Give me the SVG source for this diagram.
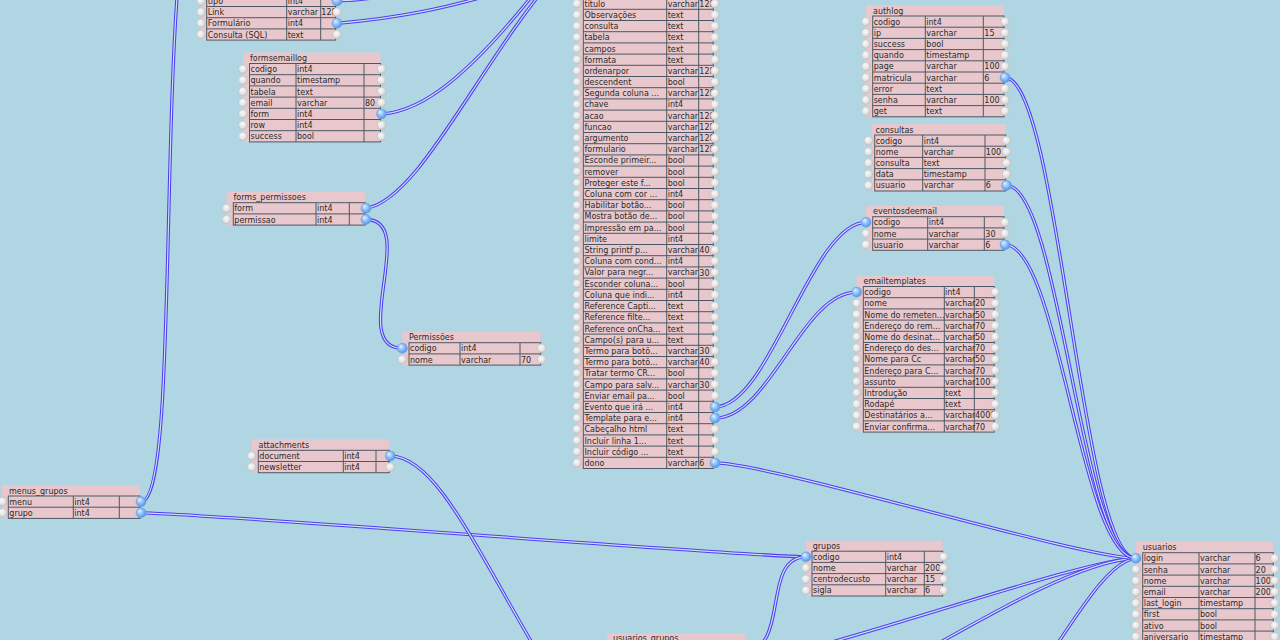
<svg xmlns="http://www.w3.org/2000/svg" xmlns:xlink="http://www.w3.org/1999/xlink" width="1280" height="640" viewBox="0 0 1280 640">
<style>
.bgc{fill:#b0d6e3}
.pk{fill:#e8c8cc}
.grid{fill:#e8c8cc;stroke:#4c5863;stroke-width:1}
.ln{fill:none;stroke:#4c5863;stroke-width:1}
.t{font-family:"DejaVu Sans","Liberation Sans",sans-serif;font-size:8px;fill:#2a2a2a}
.co{fill:none;stroke:#4b3ff2;stroke-width:3.3}
.ci{fill:none;stroke:#d4dcf6;stroke-width:1.2}
</style>
<defs>
<radialGradient id="gg" cx="0.45" cy="0.45" r="0.6" fx="0.4" fy="0.35"><stop offset="0" stop-color="#fbfbfb"/><stop offset="0.6" stop-color="#e4e4e4"/><stop offset="1" stop-color="#bcbcbc"/></radialGradient>
<radialGradient id="gb" cx="0.45" cy="0.45" r="0.6" fx="0.35" fy="0.3"><stop offset="0" stop-color="#e4f2ff"/><stop offset="0.5" stop-color="#8cc0f8"/><stop offset="1" stop-color="#4a8de6"/></radialGradient>
<circle id="o" r="4.4" fill="url(#gg)" stroke="#c2c2c2" stroke-width="0.6"/>
<circle id="b" r="5" fill="url(#gb)" stroke="#6b9fe0" stroke-width="0.5"/>
<g id="mcol">
<use href="#o" y="3.7"/><use href="#o" y="14.9"/><use href="#o" y="26.1"/><use href="#o" y="37.3"/><use href="#o" y="48.5"/><use href="#o" y="59.7"/><use href="#o" y="70.9"/><use href="#o" y="82.1"/><use href="#o" y="93.3"/><use href="#o" y="104.5"/><use href="#o" y="115.7"/><use href="#o" y="126.9"/><use href="#o" y="138.1"/><use href="#o" y="149.3"/><use href="#o" y="160.5"/><use href="#o" y="171.7"/><use href="#o" y="182.9"/><use href="#o" y="194.1"/><use href="#o" y="205.3"/><use href="#o" y="216.5"/><use href="#o" y="227.7"/><use href="#o" y="238.9"/><use href="#o" y="250.1"/><use href="#o" y="261.3"/><use href="#o" y="272.5"/><use href="#o" y="283.7"/><use href="#o" y="294.9"/><use href="#o" y="306.1"/><use href="#o" y="317.3"/><use href="#o" y="328.5"/><use href="#o" y="339.7"/><use href="#o" y="350.9"/><use href="#o" y="362.1"/><use href="#o" y="373.3"/><use href="#o" y="384.5"/><use href="#o" y="395.7"/><use href="#o" y="406.9"/><use href="#o" y="418.1"/><use href="#o" y="429.3"/><use href="#o" y="440.5"/><use href="#o" y="451.7"/><use href="#o" y="462.9"/>
</g>
<path id="c1" d="M337,0.9 C380,0 420,-10 470,-30"/>
<path id="c2" d="M337,23.3 C400,18 450,8 520,-14"/>
<path id="c3" d="M381.5,113.9 C420,112 470,80 560,-40"/>
<path id="c4" d="M366,208.3 C420,200 480,60 560,-30"/>
<path id="c5" d="M366,219.5 C420,219.5 347.3,348.3 402.3,348.3"/>
<path id="c6" d="M141,501.6 C175,501.6 162,150 180,-40"/>
<path id="c7" d="M141,512.8 C200,512.8 746,556.8 806,556.8"/>
<path id="c8" d="M390.3,455.9 C440,457 480,560 560,690"/>
<path id="c9" d="M745,650 C790,650 761,556.8 806,556.8"/>
<path id="c10" d="M745,661 C800,661 1081,558.3 1136,558.3"/>
<path id="c11" d="M900,665 C980,620 1080,560 1136,558.3"/>
<path id="c12" d="M1040,670 C1080,610 1110,560 1136,558.3"/>
<path id="c13" d="M715,462.9 C770,462.9 1081,558.3 1136,558.3"/>
<path id="c14" d="M1005,77.6 C1059,77.6 1081,558.3 1136,558.3"/>
<path id="c15" d="M1006.5,185.4 C1060,185.4 1081,558.3 1136,558.3"/>
<path id="c16" d="M1005,244.7 C1059,244.7 1081,558.3 1136,558.3"/>
<path id="c17" d="M715,406.9 C770,406.9 811,222.3 866,222.3"/>
<path id="c18" d="M715,418.1 C770,418.1 801.7,292.1 856.7,292.1"/>
</defs>
<rect class="bgc" x="0" y="0" width="1280" height="640"/>

<g id="connectors">
<use href="#c1" class="co"/><use href="#c1" class="ci"/>
<use href="#c2" class="co"/><use href="#c2" class="ci"/>
<use href="#c3" class="co"/><use href="#c3" class="ci"/>
<use href="#c4" class="co"/><use href="#c4" class="ci"/>
<use href="#c5" class="co"/><use href="#c5" class="ci"/>
<use href="#c6" class="co"/><use href="#c6" class="ci"/>
<use href="#c7" class="co"/><use href="#c7" class="ci"/>
<use href="#c8" class="co"/><use href="#c8" class="ci"/>
<use href="#c9" class="co"/><use href="#c9" class="ci"/>
<use href="#c10" class="co"/><use href="#c10" class="ci"/>
<use href="#c11" class="co"/><use href="#c11" class="ci"/>
<use href="#c12" class="co"/><use href="#c12" class="ci"/>
<use href="#c13" class="co"/><use href="#c13" class="ci"/>
<use href="#c14" class="co"/><use href="#c14" class="ci"/>
<use href="#c15" class="co"/><use href="#c15" class="ci"/>
<use href="#c16" class="co"/><use href="#c16" class="ci"/>
<use href="#c17" class="co"/><use href="#c17" class="ci"/>
<use href="#c18" class="co"/><use href="#c18" class="ci"/>
</g>

<g id="table-menus">
<rect class="pk" x="201" y="-30" width="134.7" height="70.1"/>
<rect class="grid" x="206.7" y="-4.7" width="129" height="44.8"/>
<path class="ln" d="M206.7,6.5H335.7M206.7,17.7H335.7M206.7,28.9H335.7M286.7,-4.7V40.1M320.7,-4.7V40.1"/>
<text class="t" y="3.9"><tspan x="207.7">tipo</tspan><tspan x="207.7" dy="11.2">Link</tspan><tspan x="207.7" dy="11.2">Formulário</tspan><tspan x="207.7" dy="11.2">Consulta (SQL)</tspan></text>
<text class="t" y="3.9"><tspan x="287.7">int4</tspan><tspan x="287.7" dy="11.2">varchar</tspan><tspan x="287.7" dy="11.2">int4</tspan><tspan x="287.7" dy="11.2">text</tspan></text>
<text class="t" x="321.3" y="15.1">128</text>
<use href="#o" x="201" y="0.9"/><use href="#o" x="201" y="12.1"/><use href="#o" x="201" y="23.3"/><use href="#o" x="201" y="34.5"/>
<use href="#o" x="337" y="12.1"/><use href="#o" x="337" y="34.5"/>
<use href="#b" x="337" y="0.9"/><use href="#b" x="337" y="23.3"/>
</g>

<g id="table-formsemaillog">
<rect class="pk" x="243" y="52.5" width="137.5" height="89.4"/>
<text class="t" x="250" y="61">formsemaillog</text>
<rect class="grid" x="249.5" y="63.5" width="131" height="78.4"/>
<path class="ln" d="M249.5,74.7H380.5M249.5,85.9H380.5M249.5,97.1H380.5M249.5,108.3H380.5M249.5,119.5H380.5M249.5,130.7H380.5M296,63.5V141.9M364,63.5V141.9"/>
<text class="t" y="72.1"><tspan x="250.5">codigo</tspan><tspan x="250.5" dy="11.2">quando</tspan><tspan x="250.5" dy="11.2">tabela</tspan><tspan x="250.5" dy="11.2">email</tspan><tspan x="250.5" dy="11.2">form</tspan><tspan x="250.5" dy="11.2">row</tspan><tspan x="250.5" dy="11.2">success</tspan></text>
<text class="t" y="72.1"><tspan x="297">int4</tspan><tspan x="297" dy="11.2">timestamp</tspan><tspan x="297" dy="11.2">text</tspan><tspan x="297" dy="11.2">varchar</tspan><tspan x="297" dy="11.2">int4</tspan><tspan x="297" dy="11.2">int4</tspan><tspan x="297" dy="11.2">bool</tspan></text>
<text class="t" x="365" y="105.7">80</text>
<use href="#o" x="243" y="69.1"/><use href="#o" x="243" y="80.3"/><use href="#o" x="243" y="91.5"/><use href="#o" x="243" y="102.7"/><use href="#o" x="243" y="113.9"/><use href="#o" x="243" y="125.1"/><use href="#o" x="243" y="136.3"/>
<use href="#o" x="381.5" y="69.1"/><use href="#o" x="381.5" y="80.3"/><use href="#o" x="381.5" y="91.5"/><use href="#o" x="381.5" y="102.7"/><use href="#b" x="381.5" y="113.9"/><use href="#o" x="381.5" y="125.1"/><use href="#o" x="381.5" y="136.3"/>
</g>

<g id="table-forms_permissoes">
<rect class="pk" x="226.7" y="191.7" width="138.3" height="33.4"/>
<text class="t" x="233.5" y="200.2">forms_permissoes</text>
<rect class="grid" x="233.3" y="202.7" width="131.7" height="22.4"/>
<path class="ln" d="M233.3,213.9H365M316,202.7V225.1M349.3,202.7V225.1"/>
<text class="t" y="211.3"><tspan x="234.3">form</tspan><tspan x="234.3" dy="11.2">permissao</tspan></text>
<text class="t" y="211.3"><tspan x="317">int4</tspan><tspan x="317" dy="11.2">int4</tspan></text>
<use href="#o" x="226.7" y="208.3"/><use href="#o" x="226.7" y="219.5"/>
<use href="#b" x="366" y="208.3"/><use href="#b" x="366" y="219.5"/>
</g>

<g id="table-permissoes">
<rect class="pk" x="402.3" y="331.7" width="138.4" height="33.4"/>
<text class="t" x="409" y="340.2">Permissões</text>
<rect class="grid" x="409" y="342.7" width="131.7" height="22.4"/>
<path class="ln" d="M409,353.9H540.7M460,342.7V365.1M520,342.7V365.1"/>
<text class="t" y="351.3"><tspan x="410">codigo</tspan><tspan x="410" dy="11.2">nome</tspan></text>
<text class="t" y="351.3"><tspan x="461">int4</tspan><tspan x="461" dy="11.2">varchar</tspan></text>
<text class="t" x="521" y="362.5">70</text>
<use href="#b" x="402.3" y="348.3"/><use href="#o" x="402.3" y="359.5"/>
<use href="#o" x="541.7" y="348.3"/><use href="#o" x="541.7" y="359.5"/>
</g>

<g id="table-attachments">
<rect class="pk" x="251.7" y="439.3" width="137.6" height="33.4"/>
<text class="t" x="258.5" y="447.8">attachments</text>
<rect class="grid" x="258.3" y="450.3" width="131" height="22.4"/>
<path class="ln" d="M258.3,461.5H389.3M343.3,450.3V472.7M376,450.3V472.7"/>
<text class="t" y="458.9"><tspan x="259.3">document</tspan><tspan x="259.3" dy="11.2">newsletter</tspan></text>
<text class="t" y="458.9"><tspan x="344.3">int4</tspan><tspan x="344.3" dy="11.2">int4</tspan></text>
<use href="#o" x="251.7" y="455.9"/><use href="#o" x="251.7" y="467.1"/>
<use href="#b" x="390.3" y="455.9"/><use href="#o" x="390.3" y="467.1"/>
</g>

<g id="table-menus_grupos">
<rect class="pk" x="2" y="485" width="138" height="33.4"/>
<text class="t" x="9" y="493.5">menus_grupos</text>
<rect class="grid" x="8.3" y="496" width="131.7" height="22.4"/>
<path class="ln" d="M8.3,507.2H140M73.3,496V518.4M119.3,496V518.4"/>
<text class="t" y="504.6"><tspan x="9.3">menu</tspan><tspan x="9.3" dy="11.2">grupo</tspan></text>
<text class="t" y="504.6"><tspan x="74.3">int4</tspan><tspan x="74.3" dy="11.2">int4</tspan></text>
<use href="#o" x="2.5" y="501.6"/><use href="#o" x="2.5" y="512.8"/>
<use href="#b" x="141" y="501.6"/><use href="#b" x="141" y="512.8"/>
</g>

<g id="table-main">
<rect class="pk" x="577" y="-30" width="136.3" height="498.5"/>
<rect class="grid" x="583.3" y="-1.9" width="130" height="470.4"/>
<path class="ln" d="M583.3,9.3H713.3M583.3,20.5H713.3M583.3,31.7H713.3M583.3,42.9H713.3M583.3,54.1H713.3M583.3,65.3H713.3M583.3,76.5H713.3M583.3,87.7H713.3M583.3,98.9H713.3M583.3,110.1H713.3M583.3,121.3H713.3M583.3,132.5H713.3M583.3,143.7H713.3M583.3,154.9H713.3M583.3,166.1H713.3M583.3,177.3H713.3M583.3,188.5H713.3M583.3,199.7H713.3M583.3,210.9H713.3M583.3,222.1H713.3M583.3,233.3H713.3M583.3,244.5H713.3M583.3,255.7H713.3M583.3,266.9H713.3M583.3,278.1H713.3M583.3,289.3H713.3M583.3,300.5H713.3M583.3,311.7H713.3M583.3,322.9H713.3M583.3,334.1H713.3M583.3,345.3H713.3M583.3,356.5H713.3M583.3,367.7H713.3M583.3,378.9H713.3M583.3,390.1H713.3M583.3,401.3H713.3M583.3,412.5H713.3M583.3,423.7H713.3M583.3,434.9H713.3M583.3,446.1H713.3M583.3,457.3H713.3M666.7,-1.9V468.5M698.7,-1.9V468.5"/>
<text class="t" y="6.7"><tspan x="584.5">titulo</tspan><tspan x="584.5" dy="11.2">Observações</tspan><tspan x="584.5" dy="11.2">consulta</tspan><tspan x="584.5" dy="11.2">tabela</tspan><tspan x="584.5" dy="11.2">campos</tspan><tspan x="584.5" dy="11.2">formata</tspan><tspan x="584.5" dy="11.2">ordenarpor</tspan><tspan x="584.5" dy="11.2">descendent</tspan><tspan x="584.5" dy="11.2">Segunda coluna ...</tspan><tspan x="584.5" dy="11.2">chave</tspan><tspan x="584.5" dy="11.2">acao</tspan><tspan x="584.5" dy="11.2">funcao</tspan><tspan x="584.5" dy="11.2">argumento</tspan><tspan x="584.5" dy="11.2">formulario</tspan><tspan x="584.5" dy="11.2">Esconde primeir...</tspan><tspan x="584.5" dy="11.2">remover</tspan><tspan x="584.5" dy="11.2">Proteger este f...</tspan><tspan x="584.5" dy="11.2">Coluna com cor ...</tspan><tspan x="584.5" dy="11.2">Habilitar botão...</tspan><tspan x="584.5" dy="11.2">Mostra botão de...</tspan><tspan x="584.5" dy="11.2">Impressão em pa...</tspan><tspan x="584.5" dy="11.2">limite</tspan><tspan x="584.5" dy="11.2">String printf p...</tspan><tspan x="584.5" dy="11.2">Coluna com cond...</tspan><tspan x="584.5" dy="11.2">Valor para negr...</tspan><tspan x="584.5" dy="11.2">Esconder coluna...</tspan><tspan x="584.5" dy="11.2">Coluna que indi...</tspan><tspan x="584.5" dy="11.2">Reference Capti...</tspan><tspan x="584.5" dy="11.2">Reference filte...</tspan><tspan x="584.5" dy="11.2">Reference onCha...</tspan><tspan x="584.5" dy="11.2">Campo(s) para u...</tspan><tspan x="584.5" dy="11.2">Termo para botõ...</tspan><tspan x="584.5" dy="11.2">Termo para botõ...</tspan><tspan x="584.5" dy="11.2">Tratar termo CR...</tspan><tspan x="584.5" dy="11.2">Campo para salv...</tspan><tspan x="584.5" dy="11.2">Enviar email pa...</tspan><tspan x="584.5" dy="11.2">Evento que irá ...</tspan><tspan x="584.5" dy="11.2">Template para e...</tspan><tspan x="584.5" dy="11.2">Cabeçalho html</tspan><tspan x="584.5" dy="11.2">Incluir linha 1...</tspan><tspan x="584.5" dy="11.2">Incluir código ...</tspan><tspan x="584.5" dy="11.2">dono</tspan></text>
<text class="t" y="6.7"><tspan x="667.7">varchar</tspan><tspan x="667.7" dy="11.2">text</tspan><tspan x="667.7" dy="11.2">text</tspan><tspan x="667.7" dy="11.2">text</tspan><tspan x="667.7" dy="11.2">text</tspan><tspan x="667.7" dy="11.2">text</tspan><tspan x="667.7" dy="11.2">varchar</tspan><tspan x="667.7" dy="11.2">bool</tspan><tspan x="667.7" dy="11.2">varchar</tspan><tspan x="667.7" dy="11.2">int4</tspan><tspan x="667.7" dy="11.2">varchar</tspan><tspan x="667.7" dy="11.2">varchar</tspan><tspan x="667.7" dy="11.2">varchar</tspan><tspan x="667.7" dy="11.2">varchar</tspan><tspan x="667.7" dy="11.2">bool</tspan><tspan x="667.7" dy="11.2">bool</tspan><tspan x="667.7" dy="11.2">bool</tspan><tspan x="667.7" dy="11.2">int4</tspan><tspan x="667.7" dy="11.2">bool</tspan><tspan x="667.7" dy="11.2">bool</tspan><tspan x="667.7" dy="11.2">bool</tspan><tspan x="667.7" dy="11.2">int4</tspan><tspan x="667.7" dy="11.2">varchar</tspan><tspan x="667.7" dy="11.2">int4</tspan><tspan x="667.7" dy="11.2">varchar</tspan><tspan x="667.7" dy="11.2">bool</tspan><tspan x="667.7" dy="11.2">int4</tspan><tspan x="667.7" dy="11.2">text</tspan><tspan x="667.7" dy="11.2">text</tspan><tspan x="667.7" dy="11.2">text</tspan><tspan x="667.7" dy="11.2">text</tspan><tspan x="667.7" dy="11.2">varchar</tspan><tspan x="667.7" dy="11.2">varchar</tspan><tspan x="667.7" dy="11.2">bool</tspan><tspan x="667.7" dy="11.2">varchar</tspan><tspan x="667.7" dy="11.2">bool</tspan><tspan x="667.7" dy="11.2">int4</tspan><tspan x="667.7" dy="11.2">int4</tspan><tspan x="667.7" dy="11.2">text</tspan><tspan x="667.7" dy="11.2">text</tspan><tspan x="667.7" dy="11.2">text</tspan><tspan x="667.7" dy="11.2">varchar</tspan></text>
<text class="t" x="699.3" y="6.7">128</text>
<text class="t" x="699.3" y="73.9">128</text>
<text class="t" x="699.3" y="96.3">128</text>
<text class="t" x="699.3" y="118.7">128</text>
<text class="t" x="699.3" y="129.9">128</text>
<text class="t" x="699.3" y="141.1">128</text>
<text class="t" x="699.3" y="152.3">128</text>
<text class="t" x="699.3" y="253.1">40</text>
<text class="t" x="699.3" y="275.5">30</text>
<text class="t" x="699.3" y="353.9">30</text>
<text class="t" x="699.3" y="365.1">40</text>
<text class="t" x="699.3" y="387.5">30</text>
<text class="t" x="699.3" y="465.9">6</text>
<use href="#mcol" x="577"/>
<use href="#mcol" x="715"/>
<use href="#b" x="715" y="406.9"/><use href="#b" x="715" y="418.1"/><use href="#b" x="715" y="462.9"/>
</g>

<g id="table-authlog">
<rect class="pk" x="866" y="5" width="138" height="111.8"/>
<text class="t" x="873" y="13.5">authlog</text>
<rect class="grid" x="872.7" y="16" width="131.3" height="100.8"/>
<path class="ln" d="M872.7,27.2H1004M872.7,38.4H1004M872.7,49.6H1004M872.7,60.8H1004M872.7,72H1004M872.7,83.2H1004M872.7,94.4H1004M872.7,105.6H1004M925.3,16V116.8M983.3,16V116.8"/>
<text class="t" y="24.6"><tspan x="873.7">codigo</tspan><tspan x="873.7" dy="11.2">ip</tspan><tspan x="873.7" dy="11.2">success</tspan><tspan x="873.7" dy="11.2">quando</tspan><tspan x="873.7" dy="11.2">page</tspan><tspan x="873.7" dy="11.2">matricula</tspan><tspan x="873.7" dy="11.2">error</tspan><tspan x="873.7" dy="11.2">senha</tspan><tspan x="873.7" dy="11.2">get</tspan></text>
<text class="t" y="24.6"><tspan x="926.3">int4</tspan><tspan x="926.3" dy="11.2">varchar</tspan><tspan x="926.3" dy="11.2">bool</tspan><tspan x="926.3" dy="11.2">timestamp</tspan><tspan x="926.3" dy="11.2">varchar</tspan><tspan x="926.3" dy="11.2">varchar</tspan><tspan x="926.3" dy="11.2">text</tspan><tspan x="926.3" dy="11.2">varchar</tspan><tspan x="926.3" dy="11.2">text</tspan></text>
<text class="t" x="984.3" y="35.8">15</text>
<text class="t" x="984.3" y="69.4">100</text>
<text class="t" x="984.3" y="80.6">6</text>
<text class="t" x="984.3" y="103">100</text>
<use href="#o" x="866" y="21.6"/><use href="#o" x="866" y="32.8"/><use href="#o" x="866" y="44"/><use href="#o" x="866" y="55.2"/><use href="#o" x="866" y="66.4"/><use href="#o" x="866" y="77.6"/><use href="#o" x="866" y="88.8"/><use href="#o" x="866" y="100"/><use href="#o" x="866" y="111.2"/>
<use href="#o" x="1005" y="21.6"/><use href="#o" x="1005" y="32.8"/><use href="#o" x="1005" y="44"/><use href="#o" x="1005" y="55.2"/><use href="#o" x="1005" y="66.4"/><use href="#b" x="1005" y="77.6"/><use href="#o" x="1005" y="88.8"/><use href="#o" x="1005" y="100"/><use href="#o" x="1005" y="111.2"/>
</g>

<g id="table-consultas">
<rect class="pk" x="872" y="124" width="133.7" height="67"/>
<text class="t" x="875.5" y="132.5">consultas</text>
<rect class="grid" x="874.7" y="135" width="131" height="56"/>
<path class="ln" d="M874.7,146.2H1005.7M874.7,157.4H1005.7M874.7,168.6H1005.7M874.7,179.8H1005.7M922.7,135V191M985,135V191"/>
<text class="t" y="143.6"><tspan x="875.7">codigo</tspan><tspan x="875.7" dy="11.2">nome</tspan><tspan x="875.7" dy="11.2">consulta</tspan><tspan x="875.7" dy="11.2">data</tspan><tspan x="875.7" dy="11.2">usuario</tspan></text>
<text class="t" y="143.6"><tspan x="923.7">int4</tspan><tspan x="923.7" dy="11.2">varchar</tspan><tspan x="923.7" dy="11.2">text</tspan><tspan x="923.7" dy="11.2">timestamp</tspan><tspan x="923.7" dy="11.2">varchar</tspan></text>
<text class="t" x="985.8" y="154.8">100</text>
<text class="t" x="985.8" y="188.4">6</text>
<use href="#o" x="868.5" y="140.6"/><use href="#o" x="868.5" y="151.8"/><use href="#o" x="868.5" y="163"/><use href="#o" x="868.5" y="174.2"/><use href="#o" x="868.5" y="185.4"/>
<use href="#o" x="1006.5" y="140.6"/><use href="#o" x="1006.5" y="151.8"/><use href="#o" x="1006.5" y="163"/><use href="#o" x="1006.5" y="174.2"/><use href="#b" x="1006.5" y="185.4"/>
</g>

<g id="table-eventosdeemail">
<rect class="pk" x="866" y="205.7" width="138" height="44.6"/>
<text class="t" x="873" y="214.2">eventosdeemail</text>
<rect class="grid" x="872.7" y="216.7" width="131.3" height="33.6"/>
<path class="ln" d="M872.7,227.9H1004M872.7,239.1H1004M927.7,216.7V250.3M984.3,216.7V250.3"/>
<text class="t" y="225.3"><tspan x="873.7">codigo</tspan><tspan x="873.7" dy="11.2">nome</tspan><tspan x="873.7" dy="11.2">usuario</tspan></text>
<text class="t" y="225.3"><tspan x="928.7">int4</tspan><tspan x="928.7" dy="11.2">varchar</tspan><tspan x="928.7" dy="11.2">varchar</tspan></text>
<text class="t" x="985.3" y="236.5">30</text>
<text class="t" x="985.3" y="247.7">6</text>
<use href="#b" x="866" y="222.3"/><use href="#o" x="866" y="233.5"/><use href="#o" x="866" y="244.7"/>
<use href="#o" x="1005" y="222.3"/><use href="#o" x="1005" y="233.5"/><use href="#b" x="1005" y="244.7"/>
</g>

<g id="table-emailtemplates">
<rect class="pk" x="856.7" y="275.5" width="137.6" height="156.6"/>
<text class="t" x="863.5" y="284">emailtemplates</text>
<rect class="grid" x="863.3" y="286.5" width="131" height="145.6"/>
<path class="ln" d="M863.3,297.7H994.3M863.3,308.9H994.3M863.3,320.1H994.3M863.3,331.3H994.3M863.3,342.5H994.3M863.3,353.7H994.3M863.3,364.9H994.3M863.3,376.1H994.3M863.3,387.3H994.3M863.3,398.5H994.3M863.3,409.7H994.3M863.3,420.9H994.3M944.3,286.5V432.1M974.3,286.5V432.1"/>
<text class="t" y="295.1"><tspan x="864.3">codigo</tspan><tspan x="864.3" dy="11.2">nome</tspan><tspan x="864.3" dy="11.2">Nome do remeten...</tspan><tspan x="864.3" dy="11.2">Endereço do rem...</tspan><tspan x="864.3" dy="11.2">Nome do desinat...</tspan><tspan x="864.3" dy="11.2">Endereço do des...</tspan><tspan x="864.3" dy="11.2">Nome para Cc</tspan><tspan x="864.3" dy="11.2">Endereço para C...</tspan><tspan x="864.3" dy="11.2">assunto</tspan><tspan x="864.3" dy="11.2">Introdução</tspan><tspan x="864.3" dy="11.2">Rodapé</tspan><tspan x="864.3" dy="11.2">Destinatários a...</tspan><tspan x="864.3" dy="11.2">Enviar confirma...</tspan></text>
<text class="t" y="295.1"><tspan x="945">int4</tspan><tspan x="945" dy="11.2">varchar</tspan><tspan x="945" dy="11.2">varchar</tspan><tspan x="945" dy="11.2">varchar</tspan><tspan x="945" dy="11.2">varchar</tspan><tspan x="945" dy="11.2">varchar</tspan><tspan x="945" dy="11.2">varchar</tspan><tspan x="945" dy="11.2">varchar</tspan><tspan x="945" dy="11.2">varchar</tspan><tspan x="945" dy="11.2">text</tspan><tspan x="945" dy="11.2">text</tspan><tspan x="945" dy="11.2">varchar</tspan><tspan x="945" dy="11.2">varchar</tspan></text>
<text class="t" y="306.3"><tspan x="975">20</tspan><tspan x="975" dy="11.2">50</tspan><tspan x="975" dy="11.2">70</tspan><tspan x="975" dy="11.2">50</tspan><tspan x="975" dy="11.2">70</tspan><tspan x="975" dy="11.2">50</tspan><tspan x="975" dy="11.2">70</tspan><tspan x="975" dy="11.2">100</tspan></text>
<text class="t" x="975" y="418.3">4000</text>
<text class="t" x="975" y="429.5">70</text>
<use href="#b" x="856.7" y="292.1"/><use href="#o" x="856.7" y="303.3"/><use href="#o" x="856.7" y="314.5"/><use href="#o" x="856.7" y="325.7"/><use href="#o" x="856.7" y="336.9"/><use href="#o" x="856.7" y="348.1"/><use href="#o" x="856.7" y="359.3"/><use href="#o" x="856.7" y="370.5"/><use href="#o" x="856.7" y="381.7"/><use href="#o" x="856.7" y="392.9"/><use href="#o" x="856.7" y="404.1"/><use href="#o" x="856.7" y="415.3"/><use href="#o" x="856.7" y="426.5"/>
<use href="#o" x="995.3" y="292.1"/><use href="#o" x="995.3" y="303.3"/><use href="#o" x="995.3" y="314.5"/><use href="#o" x="995.3" y="325.7"/><use href="#o" x="995.3" y="336.9"/><use href="#o" x="995.3" y="348.1"/><use href="#o" x="995.3" y="359.3"/><use href="#o" x="995.3" y="370.5"/><use href="#o" x="995.3" y="381.7"/><use href="#o" x="995.3" y="392.9"/><use href="#o" x="995.3" y="404.1"/><use href="#o" x="995.3" y="415.3"/><use href="#o" x="995.3" y="426.5"/>
</g>

<g id="table-grupos">
<rect class="pk" x="806" y="540.7" width="136.7" height="55.3"/>
<text class="t" x="812.7" y="549">grupos</text>
<rect class="grid" x="812" y="551.2" width="130.7" height="44.8"/>
<path class="ln" d="M812,562.4H942.7M812,573.6H942.7M812,584.8H942.7M885.7,551.2V596M924.3,551.2V596"/>
<text class="t" y="559.8"><tspan x="813">codigo</tspan><tspan x="813" dy="11.2">nome</tspan><tspan x="813" dy="11.2">centrodecusto</tspan><tspan x="813" dy="11.2">sigla</tspan></text>
<text class="t" y="559.8"><tspan x="886.7">int4</tspan><tspan x="886.7" dy="11.2">varchar</tspan><tspan x="886.7" dy="11.2">varchar</tspan><tspan x="886.7" dy="11.2">varchar</tspan></text>
<text class="t" y="571"><tspan x="925">200</tspan><tspan x="925" dy="11.2">15</tspan><tspan x="925" dy="11.2">6</tspan></text>
<use href="#b" x="806" y="556.8"/><use href="#o" x="806" y="568"/><use href="#o" x="806" y="579.2"/><use href="#o" x="806" y="590.4"/>
<use href="#o" x="943.7" y="556.8"/><use href="#o" x="943.7" y="568"/><use href="#o" x="943.7" y="579.2"/><use href="#o" x="943.7" y="590.4"/>
</g>

<g id="table-usuarios">
<rect class="pk" x="1136" y="541.7" width="137.3" height="110"/>
<text class="t" x="1142.7" y="550">usuarios</text>
<rect class="grid" x="1142.7" y="552.7" width="130.6" height="100"/>
<path class="ln" d="M1142.7,563.9H1273.3M1142.7,575.1H1273.3M1142.7,586.3H1273.3M1142.7,597.5H1273.3M1142.7,608.7H1273.3M1142.7,619.9H1273.3M1142.7,631.1H1273.3M1142.7,642.3H1273.3M1199,552.7V652.7M1255,552.7V652.7"/>
<text class="t" y="561.3"><tspan x="1143.7">login</tspan><tspan x="1143.7" dy="11.2">senha</tspan><tspan x="1143.7" dy="11.2">nome</tspan><tspan x="1143.7" dy="11.2">email</tspan><tspan x="1143.7" dy="11.2">last_login</tspan><tspan x="1143.7" dy="11.2">first</tspan><tspan x="1143.7" dy="11.2">ativo</tspan><tspan x="1143.7" dy="11.2">aniversario</tspan></text>
<text class="t" y="561.3"><tspan x="1200">varchar</tspan><tspan x="1200" dy="11.2">varchar</tspan><tspan x="1200" dy="11.2">varchar</tspan><tspan x="1200" dy="11.2">varchar</tspan><tspan x="1200" dy="11.2">timestamp</tspan><tspan x="1200" dy="11.2">bool</tspan><tspan x="1200" dy="11.2">bool</tspan><tspan x="1200" dy="11.2">timestamp</tspan></text>
<text class="t" y="561.3"><tspan x="1255.6">6</tspan><tspan x="1255.6" dy="11.2">20</tspan><tspan x="1255.6" dy="11.2">100</tspan><tspan x="1255.6" dy="11.2">200</tspan></text>
<use href="#b" x="1136" y="558.3"/><use href="#o" x="1136" y="569.5"/><use href="#o" x="1136" y="580.7"/><use href="#o" x="1136" y="591.9"/><use href="#o" x="1136" y="603.1"/><use href="#o" x="1136" y="614.3"/><use href="#o" x="1136" y="625.5"/><use href="#o" x="1136" y="636.7"/>
<use href="#o" x="1274.8" y="558.3"/><use href="#o" x="1274.8" y="569.5"/><use href="#o" x="1274.8" y="580.7"/><use href="#o" x="1274.8" y="591.9"/><use href="#o" x="1274.8" y="603.1"/><use href="#o" x="1274.8" y="614.3"/><use href="#o" x="1274.8" y="625.5"/><use href="#o" x="1274.8" y="636.7"/>
</g>

<g id="table-usuarios_grupos">
<rect class="pk" x="606.7" y="633.5" width="138.3" height="20"/>
<text class="t" x="613" y="641">usuarios_grupos</text>
</g>
</svg>
